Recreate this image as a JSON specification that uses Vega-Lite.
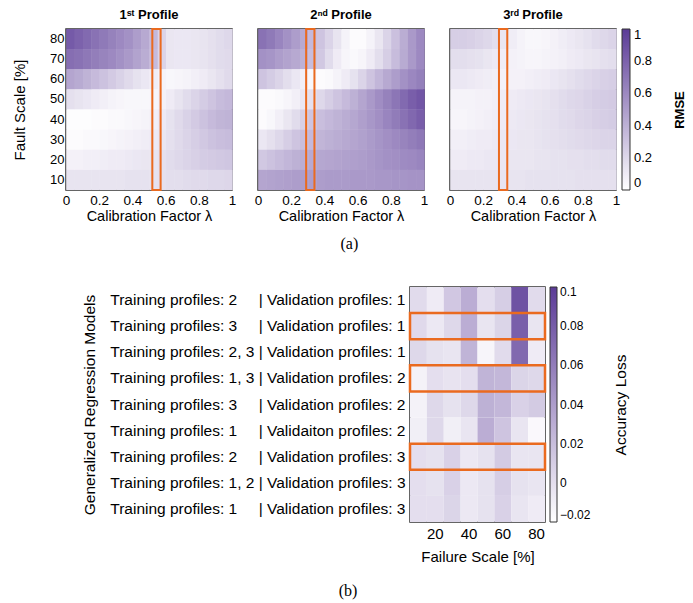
{
"$schema":"https://vega.github.io/schema/vega-lite/v6.json",
"padding":{"left":11,"top":8,"right":5,"bottom":5},
"config":{"font":"Liberation Sans","view":{"stroke":"#333","strokeWidth":1.5},
"axis":{"ticks":false,"domain":false,"grid":false,"labelColor":"#000","titleColor":"#000","titleFontWeight":"normal"},
"title":{"color":"#000"}},
"datasets":{
"rmse":[
{"p":1,"f":80,"l":0,"v":0.84},{"p":1,"f":80,"l":0.05,"v":0.8},{"p":1,"f":80,"l":0.1,"v":0.76},{"p":1,"f":80,"l":0.15,"v":0.72},{"p":1,"f":80,"l":0.2,"v":0.68},{"p":1,"f":80,"l":0.25,"v":0.64},{"p":1,"f":80,"l":0.3,"v":0.6},{"p":1,"f":80,"l":0.35,"v":0.56},{"p":1,"f":80,"l":0.4,"v":0.5},{"p":1,"f":80,"l":0.45,"v":0.44},{"p":1,"f":80,"l":0.5,"v":0.36},{"p":1,"f":80,"l":0.55,"v":0.22},{"p":1,"f":80,"l":0.6,"v":0.13},{"p":1,"f":80,"l":0.65,"v":0.12},{"p":1,"f":80,"l":0.7,"v":0.12},{"p":1,"f":80,"l":0.75,"v":0.13},{"p":1,"f":80,"l":0.8,"v":0.14},{"p":1,"f":80,"l":0.85,"v":0.16},{"p":1,"f":80,"l":0.9,"v":0.18},{"p":1,"f":80,"l":0.95,"v":0.2},
{"p":1,"f":70,"l":0,"v":0.74},{"p":1,"f":70,"l":0.05,"v":0.72},{"p":1,"f":70,"l":0.1,"v":0.69},{"p":1,"f":70,"l":0.15,"v":0.66},{"p":1,"f":70,"l":0.2,"v":0.63},{"p":1,"f":70,"l":0.25,"v":0.6},{"p":1,"f":70,"l":0.3,"v":0.56},{"p":1,"f":70,"l":0.35,"v":0.52},{"p":1,"f":70,"l":0.4,"v":0.47},{"p":1,"f":70,"l":0.45,"v":0.42},{"p":1,"f":70,"l":0.5,"v":0.35},{"p":1,"f":70,"l":0.55,"v":0.22},{"p":1,"f":70,"l":0.6,"v":0.13},{"p":1,"f":70,"l":0.65,"v":0.12},{"p":1,"f":70,"l":0.7,"v":0.12},{"p":1,"f":70,"l":0.75,"v":0.13},{"p":1,"f":70,"l":0.8,"v":0.14},{"p":1,"f":70,"l":0.85,"v":0.16},{"p":1,"f":70,"l":0.9,"v":0.18},{"p":1,"f":70,"l":0.95,"v":0.19},
{"p":1,"f":60,"l":0,"v":0.46},{"p":1,"f":60,"l":0.05,"v":0.43},{"p":1,"f":60,"l":0.1,"v":0.39},{"p":1,"f":60,"l":0.15,"v":0.35},{"p":1,"f":60,"l":0.2,"v":0.31},{"p":1,"f":60,"l":0.25,"v":0.27},{"p":1,"f":60,"l":0.3,"v":0.23},{"p":1,"f":60,"l":0.35,"v":0.19},{"p":1,"f":60,"l":0.4,"v":0.15},{"p":1,"f":60,"l":0.45,"v":0.12},{"p":1,"f":60,"l":0.5,"v":0.09},{"p":1,"f":60,"l":0.55,"v":0.06},{"p":1,"f":60,"l":0.6,"v":0.04},{"p":1,"f":60,"l":0.65,"v":0.05},{"p":1,"f":60,"l":0.7,"v":0.06},{"p":1,"f":60,"l":0.75,"v":0.08},{"p":1,"f":60,"l":0.8,"v":0.1},{"p":1,"f":60,"l":0.85,"v":0.13},{"p":1,"f":60,"l":0.9,"v":0.16},{"p":1,"f":60,"l":0.95,"v":0.19},
{"p":1,"f":50,"l":0,"v":0.16},{"p":1,"f":50,"l":0.05,"v":0.14},{"p":1,"f":50,"l":0.1,"v":0.12},{"p":1,"f":50,"l":0.15,"v":0.1},{"p":1,"f":50,"l":0.2,"v":0.08},{"p":1,"f":50,"l":0.25,"v":0.06},{"p":1,"f":50,"l":0.3,"v":0.05},{"p":1,"f":50,"l":0.35,"v":0.04},{"p":1,"f":50,"l":0.4,"v":0.04},{"p":1,"f":50,"l":0.45,"v":0.04},{"p":1,"f":50,"l":0.5,"v":0.05},{"p":1,"f":50,"l":0.55,"v":0.07},{"p":1,"f":50,"l":0.6,"v":0.1},{"p":1,"f":50,"l":0.65,"v":0.14},{"p":1,"f":50,"l":0.7,"v":0.18},{"p":1,"f":50,"l":0.75,"v":0.22},{"p":1,"f":50,"l":0.8,"v":0.26},{"p":1,"f":50,"l":0.85,"v":0.3},{"p":1,"f":50,"l":0.9,"v":0.34},{"p":1,"f":50,"l":0.95,"v":0.36},
{"p":1,"f":40,"l":0,"v":0.01},{"p":1,"f":40,"l":0.05,"v":0.01},{"p":1,"f":40,"l":0.1,"v":0.01},{"p":1,"f":40,"l":0.15,"v":0.02},{"p":1,"f":40,"l":0.2,"v":0.02},{"p":1,"f":40,"l":0.25,"v":0.03},{"p":1,"f":40,"l":0.3,"v":0.03},{"p":1,"f":40,"l":0.35,"v":0.04},{"p":1,"f":40,"l":0.4,"v":0.05},{"p":1,"f":40,"l":0.45,"v":0.06},{"p":1,"f":40,"l":0.5,"v":0.08},{"p":1,"f":40,"l":0.55,"v":0.11},{"p":1,"f":40,"l":0.6,"v":0.15},{"p":1,"f":40,"l":0.65,"v":0.19},{"p":1,"f":40,"l":0.7,"v":0.23},{"p":1,"f":40,"l":0.75,"v":0.27},{"p":1,"f":40,"l":0.8,"v":0.31},{"p":1,"f":40,"l":0.85,"v":0.35},{"p":1,"f":40,"l":0.9,"v":0.38},{"p":1,"f":40,"l":0.95,"v":0.39},
{"p":1,"f":30,"l":0,"v":0.02},{"p":1,"f":30,"l":0.05,"v":0.02},{"p":1,"f":30,"l":0.1,"v":0.03},{"p":1,"f":30,"l":0.15,"v":0.03},{"p":1,"f":30,"l":0.2,"v":0.04},{"p":1,"f":30,"l":0.25,"v":0.05},{"p":1,"f":30,"l":0.3,"v":0.06},{"p":1,"f":30,"l":0.35,"v":0.07},{"p":1,"f":30,"l":0.4,"v":0.08},{"p":1,"f":30,"l":0.45,"v":0.09},{"p":1,"f":30,"l":0.5,"v":0.11},{"p":1,"f":30,"l":0.55,"v":0.13},{"p":1,"f":30,"l":0.6,"v":0.16},{"p":1,"f":30,"l":0.65,"v":0.19},{"p":1,"f":30,"l":0.7,"v":0.22},{"p":1,"f":30,"l":0.75,"v":0.25},{"p":1,"f":30,"l":0.8,"v":0.28},{"p":1,"f":30,"l":0.85,"v":0.31},{"p":1,"f":30,"l":0.9,"v":0.33},{"p":1,"f":30,"l":0.95,"v":0.34},
{"p":1,"f":20,"l":0,"v":0.07},{"p":1,"f":20,"l":0.05,"v":0.07},{"p":1,"f":20,"l":0.1,"v":0.08},{"p":1,"f":20,"l":0.15,"v":0.08},{"p":1,"f":20,"l":0.2,"v":0.09},{"p":1,"f":20,"l":0.25,"v":0.1},{"p":1,"f":20,"l":0.3,"v":0.1},{"p":1,"f":20,"l":0.35,"v":0.11},{"p":1,"f":20,"l":0.4,"v":0.12},{"p":1,"f":20,"l":0.45,"v":0.13},{"p":1,"f":20,"l":0.5,"v":0.14},{"p":1,"f":20,"l":0.55,"v":0.16},{"p":1,"f":20,"l":0.6,"v":0.18},{"p":1,"f":20,"l":0.65,"v":0.2},{"p":1,"f":20,"l":0.7,"v":0.22},{"p":1,"f":20,"l":0.75,"v":0.24},{"p":1,"f":20,"l":0.8,"v":0.26},{"p":1,"f":20,"l":0.85,"v":0.27},{"p":1,"f":20,"l":0.9,"v":0.28},{"p":1,"f":20,"l":0.95,"v":0.29},
{"p":1,"f":10,"l":0,"v":0.14},{"p":1,"f":10,"l":0.05,"v":0.14},{"p":1,"f":10,"l":0.1,"v":0.14},{"p":1,"f":10,"l":0.15,"v":0.14},{"p":1,"f":10,"l":0.2,"v":0.14},{"p":1,"f":10,"l":0.25,"v":0.14},{"p":1,"f":10,"l":0.3,"v":0.14},{"p":1,"f":10,"l":0.35,"v":0.15},{"p":1,"f":10,"l":0.4,"v":0.15},{"p":1,"f":10,"l":0.45,"v":0.15},{"p":1,"f":10,"l":0.5,"v":0.15},{"p":1,"f":10,"l":0.55,"v":0.16},{"p":1,"f":10,"l":0.6,"v":0.17},{"p":1,"f":10,"l":0.65,"v":0.17},{"p":1,"f":10,"l":0.7,"v":0.18},{"p":1,"f":10,"l":0.75,"v":0.19},{"p":1,"f":10,"l":0.8,"v":0.19},{"p":1,"f":10,"l":0.85,"v":0.2},{"p":1,"f":10,"l":0.9,"v":0.2},{"p":1,"f":10,"l":0.95,"v":0.21},
{"p":2,"f":80,"l":0,"v":0.72},{"p":2,"f":80,"l":0.05,"v":0.68},{"p":2,"f":80,"l":0.1,"v":0.62},{"p":2,"f":80,"l":0.15,"v":0.56},{"p":2,"f":80,"l":0.2,"v":0.5},{"p":2,"f":80,"l":0.25,"v":0.44},{"p":2,"f":80,"l":0.3,"v":0.36},{"p":2,"f":80,"l":0.35,"v":0.3},{"p":2,"f":80,"l":0.4,"v":0.22},{"p":2,"f":80,"l":0.45,"v":0.14},{"p":2,"f":80,"l":0.5,"v":0.06},{"p":2,"f":80,"l":0.55,"v":0.02},{"p":2,"f":80,"l":0.6,"v":0.02},{"p":2,"f":80,"l":0.65,"v":0.06},{"p":2,"f":80,"l":0.7,"v":0.13},{"p":2,"f":80,"l":0.75,"v":0.22},{"p":2,"f":80,"l":0.8,"v":0.32},{"p":2,"f":80,"l":0.85,"v":0.42},{"p":2,"f":80,"l":0.9,"v":0.52},{"p":2,"f":80,"l":0.95,"v":0.6},
{"p":2,"f":70,"l":0,"v":0.56},{"p":2,"f":70,"l":0.05,"v":0.54},{"p":2,"f":70,"l":0.1,"v":0.5},{"p":2,"f":70,"l":0.15,"v":0.47},{"p":2,"f":70,"l":0.2,"v":0.44},{"p":2,"f":70,"l":0.25,"v":0.4},{"p":2,"f":70,"l":0.3,"v":0.34},{"p":2,"f":70,"l":0.35,"v":0.28},{"p":2,"f":70,"l":0.4,"v":0.18},{"p":2,"f":70,"l":0.45,"v":0.1},{"p":2,"f":70,"l":0.5,"v":0.05},{"p":2,"f":70,"l":0.55,"v":0.03},{"p":2,"f":70,"l":0.6,"v":0.05},{"p":2,"f":70,"l":0.65,"v":0.1},{"p":2,"f":70,"l":0.7,"v":0.17},{"p":2,"f":70,"l":0.75,"v":0.25},{"p":2,"f":70,"l":0.8,"v":0.34},{"p":2,"f":70,"l":0.85,"v":0.43},{"p":2,"f":70,"l":0.9,"v":0.52},{"p":2,"f":70,"l":0.95,"v":0.6},
{"p":2,"f":60,"l":0,"v":0.3},{"p":2,"f":60,"l":0.05,"v":0.26},{"p":2,"f":60,"l":0.1,"v":0.22},{"p":2,"f":60,"l":0.15,"v":0.17},{"p":2,"f":60,"l":0.2,"v":0.12},{"p":2,"f":60,"l":0.25,"v":0.08},{"p":2,"f":60,"l":0.3,"v":0.04},{"p":2,"f":60,"l":0.35,"v":0.02},{"p":2,"f":60,"l":0.4,"v":0.03},{"p":2,"f":60,"l":0.45,"v":0.06},{"p":2,"f":60,"l":0.5,"v":0.1},{"p":2,"f":60,"l":0.55,"v":0.15},{"p":2,"f":60,"l":0.6,"v":0.22},{"p":2,"f":60,"l":0.65,"v":0.3},{"p":2,"f":60,"l":0.7,"v":0.37},{"p":2,"f":60,"l":0.75,"v":0.44},{"p":2,"f":60,"l":0.8,"v":0.5},{"p":2,"f":60,"l":0.85,"v":0.56},{"p":2,"f":60,"l":0.9,"v":0.61},{"p":2,"f":60,"l":0.95,"v":0.65},
{"p":2,"f":50,"l":0,"v":0.02},{"p":2,"f":50,"l":0.05,"v":0.02},{"p":2,"f":50,"l":0.1,"v":0.03},{"p":2,"f":50,"l":0.15,"v":0.05},{"p":2,"f":50,"l":0.2,"v":0.08},{"p":2,"f":50,"l":0.25,"v":0.12},{"p":2,"f":50,"l":0.3,"v":0.16},{"p":2,"f":50,"l":0.35,"v":0.2},{"p":2,"f":50,"l":0.4,"v":0.25},{"p":2,"f":50,"l":0.45,"v":0.3},{"p":2,"f":50,"l":0.5,"v":0.35},{"p":2,"f":50,"l":0.55,"v":0.4},{"p":2,"f":50,"l":0.6,"v":0.46},{"p":2,"f":50,"l":0.65,"v":0.52},{"p":2,"f":50,"l":0.7,"v":0.58},{"p":2,"f":50,"l":0.75,"v":0.64},{"p":2,"f":50,"l":0.8,"v":0.7},{"p":2,"f":50,"l":0.85,"v":0.76},{"p":2,"f":50,"l":0.9,"v":0.82},{"p":2,"f":50,"l":0.95,"v":0.86},
{"p":2,"f":40,"l":0,"v":0.02},{"p":2,"f":40,"l":0.05,"v":0.04},{"p":2,"f":40,"l":0.1,"v":0.08},{"p":2,"f":40,"l":0.15,"v":0.13},{"p":2,"f":40,"l":0.2,"v":0.18},{"p":2,"f":40,"l":0.25,"v":0.24},{"p":2,"f":40,"l":0.3,"v":0.3},{"p":2,"f":40,"l":0.35,"v":0.33},{"p":2,"f":40,"l":0.4,"v":0.36},{"p":2,"f":40,"l":0.45,"v":0.39},{"p":2,"f":40,"l":0.5,"v":0.42},{"p":2,"f":40,"l":0.55,"v":0.45},{"p":2,"f":40,"l":0.6,"v":0.49},{"p":2,"f":40,"l":0.65,"v":0.53},{"p":2,"f":40,"l":0.7,"v":0.57},{"p":2,"f":40,"l":0.75,"v":0.62},{"p":2,"f":40,"l":0.8,"v":0.67},{"p":2,"f":40,"l":0.85,"v":0.72},{"p":2,"f":40,"l":0.9,"v":0.77},{"p":2,"f":40,"l":0.95,"v":0.82},
{"p":2,"f":30,"l":0,"v":0.12},{"p":2,"f":30,"l":0.05,"v":0.16},{"p":2,"f":30,"l":0.1,"v":0.2},{"p":2,"f":30,"l":0.15,"v":0.25},{"p":2,"f":30,"l":0.2,"v":0.3},{"p":2,"f":30,"l":0.25,"v":0.33},{"p":2,"f":30,"l":0.3,"v":0.36},{"p":2,"f":30,"l":0.35,"v":0.38},{"p":2,"f":30,"l":0.4,"v":0.4},{"p":2,"f":30,"l":0.45,"v":0.42},{"p":2,"f":30,"l":0.5,"v":0.44},{"p":2,"f":30,"l":0.55,"v":0.46},{"p":2,"f":30,"l":0.6,"v":0.48},{"p":2,"f":30,"l":0.65,"v":0.51},{"p":2,"f":30,"l":0.7,"v":0.54},{"p":2,"f":30,"l":0.75,"v":0.57},{"p":2,"f":30,"l":0.8,"v":0.6},{"p":2,"f":30,"l":0.85,"v":0.63},{"p":2,"f":30,"l":0.9,"v":0.66},{"p":2,"f":30,"l":0.95,"v":0.69},
{"p":2,"f":20,"l":0,"v":0.28},{"p":2,"f":20,"l":0.05,"v":0.31},{"p":2,"f":20,"l":0.1,"v":0.34},{"p":2,"f":20,"l":0.15,"v":0.37},{"p":2,"f":20,"l":0.2,"v":0.4},{"p":2,"f":20,"l":0.25,"v":0.42},{"p":2,"f":20,"l":0.3,"v":0.44},{"p":2,"f":20,"l":0.35,"v":0.45},{"p":2,"f":20,"l":0.4,"v":0.46},{"p":2,"f":20,"l":0.45,"v":0.47},{"p":2,"f":20,"l":0.5,"v":0.48},{"p":2,"f":20,"l":0.55,"v":0.49},{"p":2,"f":20,"l":0.6,"v":0.5},{"p":2,"f":20,"l":0.65,"v":0.52},{"p":2,"f":20,"l":0.7,"v":0.54},{"p":2,"f":20,"l":0.75,"v":0.56},{"p":2,"f":20,"l":0.8,"v":0.57},{"p":2,"f":20,"l":0.85,"v":0.59},{"p":2,"f":20,"l":0.9,"v":0.6},{"p":2,"f":20,"l":0.95,"v":0.62},
{"p":2,"f":10,"l":0,"v":0.46},{"p":2,"f":10,"l":0.05,"v":0.47},{"p":2,"f":10,"l":0.1,"v":0.48},{"p":2,"f":10,"l":0.15,"v":0.49},{"p":2,"f":10,"l":0.2,"v":0.5},{"p":2,"f":10,"l":0.25,"v":0.5},{"p":2,"f":10,"l":0.3,"v":0.5},{"p":2,"f":10,"l":0.35,"v":0.5},{"p":2,"f":10,"l":0.4,"v":0.51},{"p":2,"f":10,"l":0.45,"v":0.51},{"p":2,"f":10,"l":0.5,"v":0.51},{"p":2,"f":10,"l":0.55,"v":0.52},{"p":2,"f":10,"l":0.6,"v":0.52},{"p":2,"f":10,"l":0.65,"v":0.52},{"p":2,"f":10,"l":0.7,"v":0.53},{"p":2,"f":10,"l":0.75,"v":0.53},{"p":2,"f":10,"l":0.8,"v":0.54},{"p":2,"f":10,"l":0.85,"v":0.54},{"p":2,"f":10,"l":0.9,"v":0.55},{"p":2,"f":10,"l":0.95,"v":0.55},
{"p":3,"f":80,"l":0,"v":0.25},{"p":3,"f":80,"l":0.05,"v":0.25},{"p":3,"f":80,"l":0.1,"v":0.24},{"p":3,"f":80,"l":0.15,"v":0.22},{"p":3,"f":80,"l":0.2,"v":0.2},{"p":3,"f":80,"l":0.25,"v":0.17},{"p":3,"f":80,"l":0.3,"v":0.13},{"p":3,"f":80,"l":0.35,"v":0.09},{"p":3,"f":80,"l":0.4,"v":0.06},{"p":3,"f":80,"l":0.45,"v":0.04},{"p":3,"f":80,"l":0.5,"v":0.04},{"p":3,"f":80,"l":0.55,"v":0.05},{"p":3,"f":80,"l":0.6,"v":0.07},{"p":3,"f":80,"l":0.65,"v":0.09},{"p":3,"f":80,"l":0.7,"v":0.11},{"p":3,"f":80,"l":0.75,"v":0.13},{"p":3,"f":80,"l":0.8,"v":0.15},{"p":3,"f":80,"l":0.85,"v":0.18},{"p":3,"f":80,"l":0.9,"v":0.2},{"p":3,"f":80,"l":0.95,"v":0.22},
{"p":3,"f":70,"l":0,"v":0.17},{"p":3,"f":70,"l":0.05,"v":0.17},{"p":3,"f":70,"l":0.1,"v":0.16},{"p":3,"f":70,"l":0.15,"v":0.15},{"p":3,"f":70,"l":0.2,"v":0.13},{"p":3,"f":70,"l":0.25,"v":0.11},{"p":3,"f":70,"l":0.3,"v":0.09},{"p":3,"f":70,"l":0.35,"v":0.07},{"p":3,"f":70,"l":0.4,"v":0.06},{"p":3,"f":70,"l":0.45,"v":0.05},{"p":3,"f":70,"l":0.5,"v":0.05},{"p":3,"f":70,"l":0.55,"v":0.06},{"p":3,"f":70,"l":0.6,"v":0.07},{"p":3,"f":70,"l":0.65,"v":0.08},{"p":3,"f":70,"l":0.7,"v":0.1},{"p":3,"f":70,"l":0.75,"v":0.11},{"p":3,"f":70,"l":0.8,"v":0.13},{"p":3,"f":70,"l":0.85,"v":0.14},{"p":3,"f":70,"l":0.9,"v":0.16},{"p":3,"f":70,"l":0.95,"v":0.17},
{"p":3,"f":60,"l":0,"v":0.12},{"p":3,"f":60,"l":0.05,"v":0.12},{"p":3,"f":60,"l":0.1,"v":0.11},{"p":3,"f":60,"l":0.15,"v":0.1},{"p":3,"f":60,"l":0.2,"v":0.09},{"p":3,"f":60,"l":0.25,"v":0.08},{"p":3,"f":60,"l":0.3,"v":0.07},{"p":3,"f":60,"l":0.35,"v":0.07},{"p":3,"f":60,"l":0.4,"v":0.07},{"p":3,"f":60,"l":0.45,"v":0.08},{"p":3,"f":60,"l":0.5,"v":0.09},{"p":3,"f":60,"l":0.55,"v":0.1},{"p":3,"f":60,"l":0.6,"v":0.12},{"p":3,"f":60,"l":0.65,"v":0.14},{"p":3,"f":60,"l":0.7,"v":0.16},{"p":3,"f":60,"l":0.75,"v":0.18},{"p":3,"f":60,"l":0.8,"v":0.2},{"p":3,"f":60,"l":0.85,"v":0.22},{"p":3,"f":60,"l":0.9,"v":0.24},{"p":3,"f":60,"l":0.95,"v":0.25},
{"p":3,"f":50,"l":0,"v":0.06},{"p":3,"f":50,"l":0.05,"v":0.06},{"p":3,"f":50,"l":0.1,"v":0.06},{"p":3,"f":50,"l":0.15,"v":0.07},{"p":3,"f":50,"l":0.2,"v":0.07},{"p":3,"f":50,"l":0.25,"v":0.08},{"p":3,"f":50,"l":0.3,"v":0.09},{"p":3,"f":50,"l":0.35,"v":0.1},{"p":3,"f":50,"l":0.4,"v":0.11},{"p":3,"f":50,"l":0.45,"v":0.12},{"p":3,"f":50,"l":0.5,"v":0.13},{"p":3,"f":50,"l":0.55,"v":0.14},{"p":3,"f":50,"l":0.6,"v":0.16},{"p":3,"f":50,"l":0.65,"v":0.18},{"p":3,"f":50,"l":0.7,"v":0.2},{"p":3,"f":50,"l":0.75,"v":0.21},{"p":3,"f":50,"l":0.8,"v":0.23},{"p":3,"f":50,"l":0.85,"v":0.25},{"p":3,"f":50,"l":0.9,"v":0.26},{"p":3,"f":50,"l":0.95,"v":0.27},
{"p":3,"f":40,"l":0,"v":0.05},{"p":3,"f":40,"l":0.05,"v":0.05},{"p":3,"f":40,"l":0.1,"v":0.06},{"p":3,"f":40,"l":0.15,"v":0.07},{"p":3,"f":40,"l":0.2,"v":0.08},{"p":3,"f":40,"l":0.25,"v":0.09},{"p":3,"f":40,"l":0.3,"v":0.1},{"p":3,"f":40,"l":0.35,"v":0.11},{"p":3,"f":40,"l":0.4,"v":0.12},{"p":3,"f":40,"l":0.45,"v":0.13},{"p":3,"f":40,"l":0.5,"v":0.14},{"p":3,"f":40,"l":0.55,"v":0.15},{"p":3,"f":40,"l":0.6,"v":0.16},{"p":3,"f":40,"l":0.65,"v":0.18},{"p":3,"f":40,"l":0.7,"v":0.19},{"p":3,"f":40,"l":0.75,"v":0.21},{"p":3,"f":40,"l":0.8,"v":0.22},{"p":3,"f":40,"l":0.85,"v":0.24},{"p":3,"f":40,"l":0.9,"v":0.25},{"p":3,"f":40,"l":0.95,"v":0.26},
{"p":3,"f":30,"l":0,"v":0.08},{"p":3,"f":30,"l":0.05,"v":0.08},{"p":3,"f":30,"l":0.1,"v":0.09},{"p":3,"f":30,"l":0.15,"v":0.1},{"p":3,"f":30,"l":0.2,"v":0.1},{"p":3,"f":30,"l":0.25,"v":0.11},{"p":3,"f":30,"l":0.3,"v":0.12},{"p":3,"f":30,"l":0.35,"v":0.12},{"p":3,"f":30,"l":0.4,"v":0.13},{"p":3,"f":30,"l":0.45,"v":0.13},{"p":3,"f":30,"l":0.5,"v":0.14},{"p":3,"f":30,"l":0.55,"v":0.15},{"p":3,"f":30,"l":0.6,"v":0.16},{"p":3,"f":30,"l":0.65,"v":0.17},{"p":3,"f":30,"l":0.7,"v":0.18},{"p":3,"f":30,"l":0.75,"v":0.19},{"p":3,"f":30,"l":0.8,"v":0.2},{"p":3,"f":30,"l":0.85,"v":0.21},{"p":3,"f":30,"l":0.9,"v":0.22},{"p":3,"f":30,"l":0.95,"v":0.22},
{"p":3,"f":20,"l":0,"v":0.1},{"p":3,"f":20,"l":0.05,"v":0.1},{"p":3,"f":20,"l":0.1,"v":0.11},{"p":3,"f":20,"l":0.15,"v":0.11},{"p":3,"f":20,"l":0.2,"v":0.12},{"p":3,"f":20,"l":0.25,"v":0.12},{"p":3,"f":20,"l":0.3,"v":0.12},{"p":3,"f":20,"l":0.35,"v":0.13},{"p":3,"f":20,"l":0.4,"v":0.13},{"p":3,"f":20,"l":0.45,"v":0.13},{"p":3,"f":20,"l":0.5,"v":0.14},{"p":3,"f":20,"l":0.55,"v":0.14},{"p":3,"f":20,"l":0.6,"v":0.15},{"p":3,"f":20,"l":0.65,"v":0.15},{"p":3,"f":20,"l":0.7,"v":0.16},{"p":3,"f":20,"l":0.75,"v":0.16},{"p":3,"f":20,"l":0.8,"v":0.17},{"p":3,"f":20,"l":0.85,"v":0.17},{"p":3,"f":20,"l":0.9,"v":0.18},{"p":3,"f":20,"l":0.95,"v":0.18},
{"p":3,"f":10,"l":0,"v":0.14},{"p":3,"f":10,"l":0.05,"v":0.14},{"p":3,"f":10,"l":0.1,"v":0.14},{"p":3,"f":10,"l":0.15,"v":0.14},{"p":3,"f":10,"l":0.2,"v":0.14},{"p":3,"f":10,"l":0.25,"v":0.14},{"p":3,"f":10,"l":0.3,"v":0.14},{"p":3,"f":10,"l":0.35,"v":0.14},{"p":3,"f":10,"l":0.4,"v":0.14},{"p":3,"f":10,"l":0.45,"v":0.15},{"p":3,"f":10,"l":0.5,"v":0.15},{"p":3,"f":10,"l":0.55,"v":0.15},{"p":3,"f":10,"l":0.6,"v":0.15},{"p":3,"f":10,"l":0.65,"v":0.15},{"p":3,"f":10,"l":0.7,"v":0.15},{"p":3,"f":10,"l":0.75,"v":0.16},{"p":3,"f":10,"l":0.8,"v":0.16},{"p":3,"f":10,"l":0.85,"v":0.16},{"p":3,"f":10,"l":0.9,"v":0.16},{"p":3,"f":10,"l":0.95,"v":0.16}
],
"loss":[
{"m":"Training profiles: 2\u00a0\u00a0\u00a0\u00a0\u00a0| Validation profiles: 1","fs":10,"v":0.002},{"m":"Training profiles: 2\u00a0\u00a0\u00a0\u00a0\u00a0| Validation profiles: 1","fs":20,"v":-0.008},{"m":"Training profiles: 2\u00a0\u00a0\u00a0\u00a0\u00a0| Validation profiles: 1","fs":30,"v":0.014},{"m":"Training profiles: 2\u00a0\u00a0\u00a0\u00a0\u00a0| Validation profiles: 1","fs":40,"v":0.03},{"m":"Training profiles: 2\u00a0\u00a0\u00a0\u00a0\u00a0| Validation profiles: 1","fs":50,"v":0.0},{"m":"Training profiles: 2\u00a0\u00a0\u00a0\u00a0\u00a0| Validation profiles: 1","fs":60,"v":0.01},{"m":"Training profiles: 2\u00a0\u00a0\u00a0\u00a0\u00a0| Validation profiles: 1","fs":70,"v":0.086},{"m":"Training profiles: 2\u00a0\u00a0\u00a0\u00a0\u00a0| Validation profiles: 1","fs":80,"v":0.002},
{"m":"Training profiles: 3\u00a0\u00a0\u00a0\u00a0\u00a0| Validation profiles: 1","fs":10,"v":0.003},{"m":"Training profiles: 3\u00a0\u00a0\u00a0\u00a0\u00a0| Validation profiles: 1","fs":20,"v":-0.006},{"m":"Training profiles: 3\u00a0\u00a0\u00a0\u00a0\u00a0| Validation profiles: 1","fs":30,"v":0.004},{"m":"Training profiles: 3\u00a0\u00a0\u00a0\u00a0\u00a0| Validation profiles: 1","fs":40,"v":0.03},{"m":"Training profiles: 3\u00a0\u00a0\u00a0\u00a0\u00a0| Validation profiles: 1","fs":50,"v":-0.004},{"m":"Training profiles: 3\u00a0\u00a0\u00a0\u00a0\u00a0| Validation profiles: 1","fs":60,"v":0.006},{"m":"Training profiles: 3\u00a0\u00a0\u00a0\u00a0\u00a0| Validation profiles: 1","fs":70,"v":0.078},{"m":"Training profiles: 3\u00a0\u00a0\u00a0\u00a0\u00a0| Validation profiles: 1","fs":80,"v":-0.004},
{"m":"Training profiles: 2, 3 | Validation profiles: 1","fs":10,"v":0.004},{"m":"Training profiles: 2, 3 | Validation profiles: 1","fs":20,"v":-0.002},{"m":"Training profiles: 2, 3 | Validation profiles: 1","fs":30,"v":-0.004},{"m":"Training profiles: 2, 3 | Validation profiles: 1","fs":40,"v":0.026},{"m":"Training profiles: 2, 3 | Validation profiles: 1","fs":50,"v":-0.014},{"m":"Training profiles: 2, 3 | Validation profiles: 1","fs":60,"v":0.002},{"m":"Training profiles: 2, 3 | Validation profiles: 1","fs":70,"v":0.072},{"m":"Training profiles: 2, 3 | Validation profiles: 1","fs":80,"v":-0.008},
{"m":"Training profiles: 1, 3 | Validation profiles: 2","fs":10,"v":-0.012},{"m":"Training profiles: 1, 3 | Validation profiles: 2","fs":20,"v":0.0},{"m":"Training profiles: 1, 3 | Validation profiles: 2","fs":30,"v":-0.003},{"m":"Training profiles: 1, 3 | Validation profiles: 2","fs":40,"v":0.0},{"m":"Training profiles: 1, 3 | Validation profiles: 2","fs":50,"v":0.026},{"m":"Training profiles: 1, 3 | Validation profiles: 2","fs":60,"v":0.024},{"m":"Training profiles: 1, 3 | Validation profiles: 2","fs":70,"v":0.006},{"m":"Training profiles: 1, 3 | Validation profiles: 2","fs":80,"v":0.004},
{"m":"Training profiles: 3\u00a0\u00a0\u00a0\u00a0\u00a0| Validation profiles: 2","fs":10,"v":-0.012},{"m":"Training profiles: 3\u00a0\u00a0\u00a0\u00a0\u00a0| Validation profiles: 2","fs":20,"v":0.004},{"m":"Training profiles: 3\u00a0\u00a0\u00a0\u00a0\u00a0| Validation profiles: 2","fs":30,"v":-0.002},{"m":"Training profiles: 3\u00a0\u00a0\u00a0\u00a0\u00a0| Validation profiles: 2","fs":40,"v":0.004},{"m":"Training profiles: 3\u00a0\u00a0\u00a0\u00a0\u00a0| Validation profiles: 2","fs":50,"v":0.028},{"m":"Training profiles: 3\u00a0\u00a0\u00a0\u00a0\u00a0| Validation profiles: 2","fs":60,"v":0.024},{"m":"Training profiles: 3\u00a0\u00a0\u00a0\u00a0\u00a0| Validation profiles: 2","fs":70,"v":0.008},{"m":"Training profiles: 3\u00a0\u00a0\u00a0\u00a0\u00a0| Validation profiles: 2","fs":80,"v":0.012},
{"m":"Training profiles: 1\u00a0\u00a0\u00a0\u00a0\u00a0| Validaiton profiles: 2","fs":10,"v":-0.01},{"m":"Training profiles: 1\u00a0\u00a0\u00a0\u00a0\u00a0| Validaiton profiles: 2","fs":20,"v":0.004},{"m":"Training profiles: 1\u00a0\u00a0\u00a0\u00a0\u00a0| Validaiton profiles: 2","fs":30,"v":-0.01},{"m":"Training profiles: 1\u00a0\u00a0\u00a0\u00a0\u00a0| Validaiton profiles: 2","fs":40,"v":-0.004},{"m":"Training profiles: 1\u00a0\u00a0\u00a0\u00a0\u00a0| Validaiton profiles: 2","fs":50,"v":0.03},{"m":"Training profiles: 1\u00a0\u00a0\u00a0\u00a0\u00a0| Validaiton profiles: 2","fs":60,"v":0.016},{"m":"Training profiles: 1\u00a0\u00a0\u00a0\u00a0\u00a0| Validaiton profiles: 2","fs":70,"v":-0.004},{"m":"Training profiles: 1\u00a0\u00a0\u00a0\u00a0\u00a0| Validaiton profiles: 2","fs":80,"v":-0.016},
{"m":"Training profiles: 2\u00a0\u00a0\u00a0\u00a0\u00a0| Validation profiles: 3","fs":10,"v":0.0},{"m":"Training profiles: 2\u00a0\u00a0\u00a0\u00a0\u00a0| Validation profiles: 3","fs":20,"v":-0.002},{"m":"Training profiles: 2\u00a0\u00a0\u00a0\u00a0\u00a0| Validation profiles: 3","fs":30,"v":0.008},{"m":"Training profiles: 2\u00a0\u00a0\u00a0\u00a0\u00a0| Validation profiles: 3","fs":40,"v":-0.006},{"m":"Training profiles: 2\u00a0\u00a0\u00a0\u00a0\u00a0| Validation profiles: 3","fs":50,"v":-0.002},{"m":"Training profiles: 2\u00a0\u00a0\u00a0\u00a0\u00a0| Validation profiles: 3","fs":60,"v":0.012},{"m":"Training profiles: 2\u00a0\u00a0\u00a0\u00a0\u00a0| Validation profiles: 3","fs":70,"v":-0.004},{"m":"Training profiles: 2\u00a0\u00a0\u00a0\u00a0\u00a0| Validation profiles: 3","fs":80,"v":-0.004},
{"m":"Training profiles: 1, 2 | Validation profiles: 3","fs":10,"v":0.0},{"m":"Training profiles: 1, 2 | Validation profiles: 3","fs":20,"v":-0.002},{"m":"Training profiles: 1, 2 | Validation profiles: 3","fs":30,"v":0.008},{"m":"Training profiles: 1, 2 | Validation profiles: 3","fs":40,"v":-0.006},{"m":"Training profiles: 1, 2 | Validation profiles: 3","fs":50,"v":-0.002},{"m":"Training profiles: 1, 2 | Validation profiles: 3","fs":60,"v":0.01},{"m":"Training profiles: 1, 2 | Validation profiles: 3","fs":70,"v":-0.002},{"m":"Training profiles: 1, 2 | Validation profiles: 3","fs":80,"v":-0.004},
{"m":"Training profiles: 1\u00a0\u00a0\u00a0\u00a0\u00a0| Validation profiles: 3","fs":10,"v":0.0},{"m":"Training profiles: 1\u00a0\u00a0\u00a0\u00a0\u00a0| Validation profiles: 3","fs":20,"v":0.0},{"m":"Training profiles: 1\u00a0\u00a0\u00a0\u00a0\u00a0| Validation profiles: 3","fs":30,"v":0.006},{"m":"Training profiles: 1\u00a0\u00a0\u00a0\u00a0\u00a0| Validation profiles: 3","fs":40,"v":-0.006},{"m":"Training profiles: 1\u00a0\u00a0\u00a0\u00a0\u00a0| Validation profiles: 3","fs":50,"v":-0.002},{"m":"Training profiles: 1\u00a0\u00a0\u00a0\u00a0\u00a0| Validation profiles: 3","fs":60,"v":0.008},{"m":"Training profiles: 1\u00a0\u00a0\u00a0\u00a0\u00a0| Validation profiles: 3","fs":70,"v":-0.004},{"m":"Training profiles: 1\u00a0\u00a0\u00a0\u00a0\u00a0| Validation profiles: 3","fs":80,"v":-0.008}
]
},
"vconcat":[
{
"hconcat":[
{"width":166,"height":161,
"title":{"text":"1\u02e2\u1d57 Profile","fontSize":13,"fontWeight":"bold","offset":6,"anchor":"middle","frame":"group"},
"layer":[
{"data":{"name":"rmse"},"transform":[{"filter":"datum.p == 1"}],"mark":{"type":"rect","binSpacing":0},
"encoding":{
"x":{"field":"l","type":"quantitative","bin":{"binned":true,"step":0.05},"scale":{"domain":[0,1],"nice":false},"axis":{"values":[0,0.2,0.4,0.6,0.8,1],"format":"~g","title":"Calibration Factor \u03bb","labelFontSize":13.5,"labelPadding":3,"titleFontSize":14.5,"titlePadding":3,"labelFlush":false}},
"y":{"field":"f","type":"ordinal","sort":"descending","scale":{"paddingInner":0,"paddingOuter":0},"axis":{"title":"Fault Scale [%]","labelFontSize":13,"labelPadding":2,"titleFontSize":15,"titlePadding":22,"labelAngle":0}},
"color":{"field":"v","type":"quantitative","scale":{"domain":[0,1],"range":["#ffffff","#5b3b97"],"interpolate":"rgb"},
"legend":{"type":"gradient","title":"RMSE","orient":"right","direction":"vertical","gradientLength":161,"gradientThickness":8,"offset":1,"values":[0,0.2,0.4,0.6,0.8,1],"format":"~g","labelFontSize":13,"labelOffset":4,"labelBaseline":"middle","labelOverlap":false,"labelColor":"#000","titleOrient":"right","titleFontSize":13,"titleFontWeight":"bold","titleColor":"#000","titlePadding":22,"titleAnchor":"middle","titleAlign":"center","titleBaseline":"top","gradientStrokeColor":"#333","gradientStrokeWidth":1,"encode":{"title":{"update":{"angle":{"value":-90}}}}}}
}},
{"data":{"name":"rmse"},"transform":[{"filter":"datum.p == 1"}],"mark":{"type":"rect","binSpacing":0},
"encoding":{
"x":{"field":"l","type":"quantitative","bin":{"binned":true,"step":0.05}},
"y":{"field":"f","type":"ordinal","sort":"descending"},
"color":{"field":"v","type":"quantitative"}
}},
{"data":{"values":[{"a":0.52,"b":0.57}]},"mark":{"type":"rect","fill":null,"stroke":"#ea6a1f","strokeWidth":2},
"encoding":{"x":{"field":"a","type":"quantitative"},"x2":{"field":"b"}}}
]},
{"width":166,"height":161,
"title":{"text":"2\u207f\u1d48 Profile","fontSize":13,"fontWeight":"bold","offset":6,"anchor":"middle","frame":"group"},
"layer":[
{"data":{"name":"rmse"},"transform":[{"filter":"datum.p == 2"}],"mark":{"type":"rect","binSpacing":0},
"encoding":{
"x":{"field":"l","type":"quantitative","bin":{"binned":true,"step":0.05},"scale":{"domain":[0,1],"nice":false},"axis":{"values":[0,0.2,0.4,0.6,0.8,1],"format":"~g","title":"Calibration Factor \u03bb","labelFontSize":13.5,"labelPadding":3,"titleFontSize":14.5,"titlePadding":3,"labelFlush":false}},
"y":{"field":"f","type":"ordinal","sort":"descending","scale":{"paddingInner":0,"paddingOuter":0},"axis":null},
"color":{"field":"v","type":"quantitative"}
}},
{"data":{"name":"rmse"},"transform":[{"filter":"datum.p == 2"}],"mark":{"type":"rect","binSpacing":0},
"encoding":{
"x":{"field":"l","type":"quantitative","bin":{"binned":true,"step":0.05}},
"y":{"field":"f","type":"ordinal","sort":"descending"},
"color":{"field":"v","type":"quantitative"}
}},
{"data":{"values":[{"a":0.29,"b":0.34}]},"mark":{"type":"rect","fill":null,"stroke":"#ea6a1f","strokeWidth":2},
"encoding":{"x":{"field":"a","type":"quantitative"},"x2":{"field":"b"}}}
]},
{"width":166,"height":161,
"title":{"text":"3\u02b3\u1d48 Profile","fontSize":13,"fontWeight":"bold","offset":6,"anchor":"middle","frame":"group"},
"layer":[
{"data":{"name":"rmse"},"transform":[{"filter":"datum.p == 3"}],"mark":{"type":"rect","binSpacing":0},
"encoding":{
"x":{"field":"l","type":"quantitative","bin":{"binned":true,"step":0.05},"scale":{"domain":[0,1],"nice":false},"axis":{"values":[0,0.2,0.4,0.6,0.8,1],"format":"~g","title":"Calibration Factor \u03bb","labelFontSize":13.5,"labelPadding":3,"titleFontSize":14.5,"titlePadding":3,"labelFlush":false}},
"y":{"field":"f","type":"ordinal","sort":"descending","scale":{"paddingInner":0,"paddingOuter":0},"axis":null},
"color":{"field":"v","type":"quantitative"}
}},
{"data":{"name":"rmse"},"transform":[{"filter":"datum.p == 3"}],"mark":{"type":"rect","binSpacing":0},
"encoding":{
"x":{"field":"l","type":"quantitative","bin":{"binned":true,"step":0.05}},
"y":{"field":"f","type":"ordinal","sort":"descending"},
"color":{"field":"v","type":"quantitative"}
}},
{"data":{"values":[{"a":0.295,"b":0.345}]},"mark":{"type":"rect","fill":null,"stroke":"#ea6a1f","strokeWidth":2},
"encoding":{"x":{"field":"a","type":"quantitative"},"x2":{"field":"b"}}}
]}
],
"spacing":16,
"resolve":{"scale":{"color":"shared"}},
"title":{"text":"(a)","orient":"bottom","anchor":"middle","font":"Liberation Serif","fontSize":16,"fontWeight":"normal","offset":12}
},
{
"hconcat":[
{"width":1,"height":235,"data":{"values":[]},"mark":"point","view":{"stroke":null}},
{"width":135,"height":235,
"layer":[
{"data":{"name":"loss"},"mark":{"type":"rect"},
"encoding":{
"x":{"field":"fs","type":"ordinal","scale":{"paddingInner":0,"paddingOuter":0},"axis":{"values":[20,40,60,80],"labelAngle":0,"title":"Failure Scale [%]","labelFontSize":15,"labelPadding":4,"titleFontSize":15,"titlePadding":8}},
"y":{"field":"m","type":"ordinal","sort":null,"scale":{"paddingInner":0,"paddingOuter":0,"domain":["Training profiles: 2\u00a0\u00a0\u00a0\u00a0\u00a0| Validation profiles: 1","Training profiles: 3\u00a0\u00a0\u00a0\u00a0\u00a0| Validation profiles: 1","Training profiles: 2, 3 | Validation profiles: 1","Training profiles: 1, 3 | Validation profiles: 2","Training profiles: 3\u00a0\u00a0\u00a0\u00a0\u00a0| Validation profiles: 2","Training profiles: 1\u00a0\u00a0\u00a0\u00a0\u00a0| Validaiton profiles: 2","Training profiles: 2\u00a0\u00a0\u00a0\u00a0\u00a0| Validation profiles: 3","Training profiles: 1, 2 | Validation profiles: 3","Training profiles: 1\u00a0\u00a0\u00a0\u00a0\u00a0| Validation profiles: 3"]},"axis":{"title":"Generalized Regression Models","labelFontSize":15.5,"labelPadding":5,"labelLimit":500,"titleFontSize":15.5,"titlePadding":10,"titleX":-313}},
"color":{"field":"v","type":"quantitative","scale":{"domain":[-0.02,0.1],"range":["#ffffff","#5b3b97"],"interpolate":"rgb"},
"legend":{"type":"gradient","title":"Accuracy Loss","orient":"right","direction":"vertical","gradientLength":235,"gradientThickness":7,"offset":3,"values":[-0.02,0,0.02,0.04,0.06,0.08,0.1],"format":"~g","labelFontSize":12,"labelOffset":3,"labelBaseline":"middle","labelOverlap":false,"labelColor":"#000","titleOrient":"right","titleFontSize":15.5,"titleFontWeight":"normal","titleColor":"#000","titlePadding":24,"titleAnchor":"middle","titleAlign":"center","titleBaseline":"top","gradientStrokeColor":"#333","gradientStrokeWidth":1,"encode":{"title":{"update":{"angle":{"value":-90}}}}}}
}},
{"data":{"values":[{"m":"Training profiles: 3\u00a0\u00a0\u00a0\u00a0\u00a0| Validation profiles: 1"},{"m":"Training profiles: 1, 3 | Validation profiles: 2"},{"m":"Training profiles: 2\u00a0\u00a0\u00a0\u00a0\u00a0| Validation profiles: 3"}]},
"mark":{"type":"rect","fill":null,"stroke":"#ea6a1f","strokeWidth":2.5},
"encoding":{"y":{"field":"m","type":"ordinal","sort":null}}}
]}
],
"spacing":14,
"title":{"text":"(b)","orient":"bottom","anchor":"middle","font":"Liberation Serif","fontSize":16,"fontWeight":"normal","offset":18}
}
],
"spacing":34,
"resolve":{"scale":{"color":"independent"}}
}
